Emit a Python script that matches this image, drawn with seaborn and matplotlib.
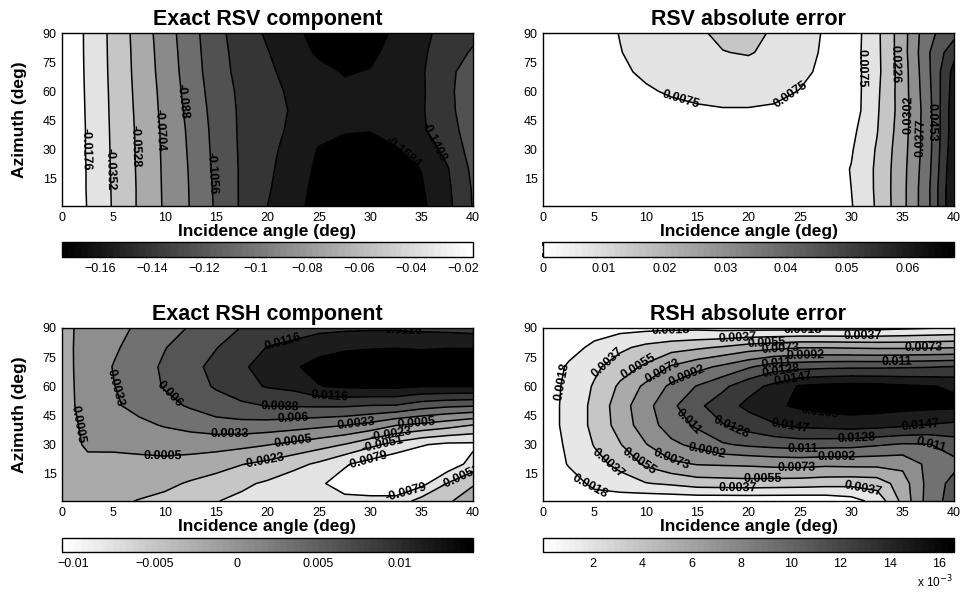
# Four contour panels: exact RSV / RSH reflection components and their absolute errors

import numpy as np
import matplotlib
matplotlib.use("Agg")
import matplotlib.pyplot as plt
from matplotlib.colors import Normalize
from matplotlib.cm import ScalarMappable
from matplotlib.ticker import FuncFormatter
import seaborn as sns

sns.set_theme(style="white")
plt.rcParams["font.family"] = ["Liberation Sans", "DejaVu Sans"]
plt.rcParams["text.color"] = "black"
plt.rcParams["axes.labelcolor"] = "black"
plt.rcParams["contour.negative_linestyle"] = "solid"

# ======================================================
# Data
# ======================================================

incidence = [0, 2.5, 5, 7.5, 10, 12.5, 15, 17.5, 20, 22.5, 25, 27.5, 30, 32.5, 35, 37.5, 40]
azimuth = [1, 10, 20, 30, 40, 50, 60, 70, 80, 90]

# rows go from azimuth 1 up to azimuth 90
rsv_exact = [
    [-0.002, -0.0183, -0.0367, -0.0549, -0.0724, -0.0888, -0.1078, -0.1256, -0.1408, -0.1541, -0.1635, -0.1710, -0.1745, -0.1700, -0.1620, -0.1455, -0.1222],
    [-0.002, -0.0187, -0.0370, -0.0549, -0.0727, -0.0891, -0.1085, -0.1256, -0.1387, -0.1527, -0.1625, -0.1690, -0.1715, -0.1675, -0.1600, -0.1442, -0.1215],
    [-0.002, -0.0187, -0.0374, -0.0553, -0.0730, -0.0896, -0.1094, -0.1255, -0.1371, -0.1508, -0.1612, -0.1655, -0.1668, -0.1635, -0.1580, -0.1421, -0.1192],
    [-0.002, -0.0191, -0.0377, -0.0557, -0.0734, -0.0905, -0.1104, -0.1258, -0.1359, -0.1477, -0.1595, -0.1620, -0.1622, -0.1600, -0.1509, -0.1359, -0.1160],
    [-0.002, -0.0191, -0.0381, -0.0560, -0.0738, -0.0914, -0.1112, -0.1261, -0.1350, -0.1440, -0.1530, -0.1575, -0.1580, -0.1505, -0.1434, -0.1300, -0.1150],
    [-0.002, -0.0195, -0.0385, -0.0568, -0.0749, -0.0930, -0.1124, -0.1262, -0.1345, -0.1425, -0.1480, -0.1515, -0.1515, -0.1480, -0.1425, -0.1284, -0.1120],
    [-0.002, -0.0199, -0.0389, -0.0576, -0.0758, -0.0949, -0.1139, -0.1269, -0.1354, -0.1440, -0.1510, -0.1550, -0.1545, -0.1500, -0.1430, -0.1278, -0.1110],
    [-0.002, -0.0203, -0.0394, -0.0584, -0.0771, -0.0966, -0.1157, -0.1287, -0.1381, -0.1461, -0.1535, -0.1595, -0.1575, -0.1510, -0.1425, -0.1285, -0.1130],
    [-0.002, -0.0206, -0.0397, -0.0589, -0.0781, -0.0976, -0.1168, -0.1299, -0.1400, -0.1507, -0.1610, -0.1680, -0.1620, -0.1523, -0.1433, -0.1325, -0.1210],
    [-0.002, -0.0207, -0.0400, -0.0597, -0.0792, -0.0987, -0.1178, -0.1318, -0.1433, -0.1538, -0.1650, -0.1740, -0.1680, -0.1546, -0.1442, -0.1360, -0.1280],
]

rsv_error = [
    [0.002, 0.002, 0.002, 0.002, 0.002, 0.002, 0.002, 0.002, 0.002, 0.002, 0.002, 0.003, 0.0070, 0.0160, 0.0280, 0.0438, 0.068],
    [0.002, 0.002, 0.002, 0.002, 0.002, 0.002, 0.002, 0.002, 0.002, 0.002, 0.002, 0.0035, 0.0075, 0.0163, 0.0280, 0.0438, 0.068],
    [0.002, 0.002, 0.002, 0.002, 0.002, 0.002, 0.002, 0.002, 0.002, 0.002, 0.0025, 0.0035, 0.0078, 0.0163, 0.0278, 0.0430, 0.067],
    [0.002, 0.002, 0.002, 0.002, 0.002, 0.002, 0.0025, 0.0025, 0.0025, 0.0025, 0.0025, 0.0035, 0.0068, 0.0158, 0.0273, 0.0423, 0.066],
    [0.002, 0.002, 0.0025, 0.003, 0.0035, 0.004, 0.0045, 0.0048, 0.0048, 0.0046, 0.0043, 0.0038, 0.0055, 0.0147, 0.0267, 0.0423, 0.065],
    [0.002, 0.003, 0.0035, 0.0042, 0.0050, 0.0058, 0.0065, 0.0070, 0.0070, 0.0066, 0.0058, 0.0046, 0.0035, 0.0142, 0.0261, 0.0423, 0.065],
    [0.002, 0.003, 0.0040, 0.0052, 0.0068, 0.0082, 0.0093, 0.0100, 0.0100, 0.0091, 0.0073, 0.0052, 0.0035, 0.0137, 0.0264, 0.0430, 0.064],
    [0.002, 0.003, 0.0045, 0.0065, 0.0085, 0.0102, 0.0117, 0.0125, 0.0125, 0.0110, 0.0090, 0.0060, 0.0038, 0.0131, 0.0264, 0.0438, 0.063],
    [0.002, 0.003, 0.0045, 0.0073, 0.0095, 0.0115, 0.0132, 0.0149, 0.0156, 0.0135, 0.0100, 0.0065, 0.0040, 0.0132, 0.0270, 0.0445, 0.058],
    [0.002, 0.003, 0.0050, 0.0077, 0.0098, 0.0120, 0.0141, 0.0165, 0.0170, 0.0143, 0.0105, 0.0068, 0.0035, 0.0134, 0.0270, 0.0434, 0.050],
]

rsh_exact = [
    [-0.0012, -0.0015, -0.0019, -0.0024, -0.0030, -0.0041, -0.0050, -0.0057, -0.0065, -0.0072, -0.0074, -0.0072, -0.0070, -0.0068, -0.0040, -0.0026, -0.0012],
    [-0.0010, -0.0010, -0.0010, -0.0014, -0.0017, -0.0026, -0.0035, -0.0046, -0.0055, -0.0068, -0.0075, -0.0090, -0.0100, -0.0105, -0.0088, -0.0050, -0.0025],
    [-0.0008, 0.0000, -0.0003, -0.0002, -0.0002, -0.0006, -0.0012, -0.0022, -0.0030, -0.0042, -0.0056, -0.0076, -0.0090, -0.0102, -0.0100, -0.0098, -0.0068],
    [-0.0005, 0.0008, 0.0010, 0.0012, 0.0015, 0.0016, 0.0015, 0.0012, 0.0006, -0.0002, -0.0012, -0.0024, -0.0044, -0.0061, -0.0077, -0.0085, -0.0085],
    [-0.0004, 0.0010, 0.0018, 0.0027, 0.0035, 0.0042, 0.0049, 0.0051, 0.0049, 0.0045, 0.0040, 0.0034, 0.0024, 0.0006, -0.0002, -0.0012, -0.0024],
    [-0.0004, 0.0014, 0.0029, 0.0041, 0.0052, 0.0063, 0.0075, 0.0082, 0.0089, 0.0090, 0.0091, 0.0091, 0.0087, 0.0086, 0.0072, 0.0065, 0.0062],
    [-0.0004, 0.0015, 0.0032, 0.0047, 0.0062, 0.0076, 0.0091, 0.0108, 0.0118, 0.0124, 0.0143, 0.0148, 0.0150, 0.0150, 0.0145, 0.0145, 0.0145],
    [-0.0004, 0.0016, 0.0034, 0.0049, 0.0064, 0.0080, 0.0096, 0.0112, 0.0127, 0.0141, 0.0152, 0.0160, 0.0165, 0.0168, 0.0166, 0.0163, 0.0160],
    [-0.0003, 0.0015, 0.0029, 0.0044, 0.0059, 0.0072, 0.0087, 0.0102, 0.0117, 0.0126, 0.0136, 0.0140, 0.0142, 0.0143, 0.0141, 0.0143, 0.0143],
    [-0.0002, 0.0013, 0.0025, 0.0037, 0.0050, 0.0062, 0.0076, 0.0089, 0.0095, 0.0100, 0.0108, 0.0111, 0.0112, 0.0112, 0.0110, 0.0108, 0.0105],
]

rsh_error = [
    [0.0003, 0.0006, 0.0012, 0.0007, 0.0004, 0.0004, 0.0004, 0.0004, 0.0004, 0.0004, 0.0004, 0.0005, 0.0010, 0.0025, 0.0060, 0.0100, 0.0118],
    [0.0005, 0.0012, 0.0021, 0.0029, 0.0036, 0.0040, 0.0046, 0.0047, 0.0048, 0.0047, 0.0046, 0.0044, 0.0043, 0.0045, 0.0064, 0.0098, 0.0116],
    [0.0007, 0.0019, 0.0031, 0.0042, 0.0058, 0.0069, 0.0074, 0.0075, 0.0076, 0.0078, 0.0079, 0.0077, 0.0078, 0.0078, 0.0078, 0.0097, 0.0105],
    [0.0008, 0.0021, 0.0038, 0.0054, 0.0072, 0.0088, 0.0097, 0.0108, 0.0113, 0.0116, 0.0118, 0.0117, 0.0116, 0.0112, 0.0108, 0.0109, 0.0118],
    [0.0009, 0.0023, 0.0042, 0.0062, 0.0083, 0.0101, 0.0113, 0.0127, 0.0136, 0.0145, 0.0151, 0.0153, 0.0155, 0.0153, 0.0150, 0.0146, 0.0143],
    [0.0009, 0.0023, 0.0042, 0.0064, 0.0086, 0.0106, 0.0124, 0.0138, 0.0152, 0.0162, 0.0168, 0.0172, 0.0174, 0.0173, 0.0171, 0.0170, 0.0169],
    [0.0009, 0.0022, 0.0039, 0.0058, 0.0077, 0.0096, 0.0111, 0.0124, 0.0140, 0.0152, 0.0167, 0.0170, 0.0172, 0.0171, 0.0168, 0.0166, 0.0163],
    [0.0008, 0.0020, 0.0033, 0.0047, 0.0058, 0.0075, 0.0086, 0.0096, 0.0108, 0.0120, 0.0122, 0.0124, 0.0125, 0.0125, 0.0126, 0.0127, 0.0129],
    [0.0006, 0.0013, 0.0021, 0.0033, 0.0042, 0.0048, 0.0052, 0.0057, 0.0064, 0.0068, 0.0072, 0.0072, 0.0071, 0.0070, 0.0070, 0.0071, 0.0072],
    [0.0004, 0.0007, 0.0012, 0.0012, 0.0013, 0.0014, 0.0014, 0.0012, 0.0012, 0.0012, 0.0012, 0.0012, 0.0012, 0.0013, 0.0015, 0.0017, 0.0019],
]

# contour levels as labelled in the picture
rsv_exact_levels = [-0.1584, -0.1408, -0.1232, -0.1056, -0.088, -0.0704, -0.0528, -0.0352, -0.0176]
rsv_error_levels = [0.0075, 0.0151, 0.0226, 0.0302, 0.0377, 0.0453, 0.0528, 0.0604]
rsh_exact_levels = [-0.0079, -0.0051, -0.0023, 0.0005, 0.0033, 0.006, 0.0088, 0.0116, 0.0144]
rsh_error_levels = [0.0018, 0.0037, 0.0055, 0.0073, 0.0092, 0.011, 0.0128, 0.0147, 0.0165]

# colorbar ranges and ticks
rsv_exact_range = (-0.1747, -0.0161)
rsv_error_range = (0.0, 0.0677)
rsh_exact_range = (-0.0107, 0.0145)
rsh_error_range = (0.0, 0.0166)

rsv_exact_ticks = [-0.16, -0.14, -0.12, -0.1, -0.08, -0.06, -0.04, -0.02]
rsv_error_ticks = [0, 0.01, 0.02, 0.03, 0.04, 0.05, 0.06]
rsh_exact_ticks = [-0.01, -0.005, 0, 0.005, 0.01]
rsh_error_ticks = [0.002, 0.004, 0.006, 0.008, 0.010, 0.012, 0.014, 0.016]

x_ticks = [0, 5, 10, 15, 20, 25, 30, 35, 40]
y_ticks = [15, 30, 45, 60, 75, 90]

# where the contour labels sit (incidence, azimuth)
rsv_exact_label_at = [(2.3, 30), (4.8, 20), (7.1, 32), (9.5, 40), (12, 55), (14.7, 18),
                      (33.5, 30), (37, 37)]
rsv_error_label_at = [(13.5, 57), (24, 59), (31, 72), (34.2, 74), (35.8, 48), (36.7, 36),
                      (37.9, 44)]
rsh_exact_label_at = [(1, 40), (5.5, 60), (10.5, 56), (21.5, 83), (33.2, 88), (26, 54),
                      (21.2, 49.6), (22.5, 43), (16.3, 36), (9.8, 25), (22.5, 31.6),
                      (19.6, 22), (28.6, 40.4), (34.5, 42), (32, 35), (31.2, 31),
                      (29.6, 24), (33.5, 5), (38.6, 15)]
rsh_error_label_at = [(2.1, 62), (12.4, 86.4), (25.3, 88), (4.5, 8), (6.5, 71),
                      (18.9, 84), (31.1, 85), (6.2, 20), (18.9, 7), (31.1, 8),
                      (9.4, 69.4), (21.8, 81.2), (9.1, 20), (21.4, 12),
                      (11.7, 67.4), (23.1, 79.4), (37, 79), (12.4, 21.5), (24.7, 18),
                      (14, 64.8), (25.5, 77.6), (15.9, 25), (28.6, 25.6),
                      (22.7, 72), (34.4, 73.5), (14, 41), (25.3, 27.5), (37.7, 29),
                      (23.1, 68.4), (18.2, 37), (30.5, 33.4),
                      (24.3, 64.8), (24, 39), (36.7, 39.5), (26.9, 43)]

# ======================================================
# Layout (pixel boxes of the 960x593 picture)
# ======================================================

W, H = 960, 593


def px_rect(left, top, right, bottom):
    return [left / W, 1 - bottom / H, (right - left) / W, (bottom - top) / H]


def minus_fmt(v, pos=None):
    return ("%g" % v).replace("-", "\u2212")


panels = [
    dict(title="Exact RSV component", z=rsv_exact, levels=rsv_exact_levels,
         cmap="gray", lim=rsv_exact_range, ticks=rsv_exact_ticks, labels=rsv_exact_label_at,
         ax_box=(62, 33, 473, 206), cb_box=(62, 242, 473, 257), ylabel=True),
    dict(title="RSV absolute error", z=rsv_error, levels=rsv_error_levels,
         cmap="gray_r", lim=rsv_error_range, ticks=rsv_error_ticks, labels=rsv_error_label_at,
         ax_box=(543, 33, 954, 206), cb_box=(543, 242, 954, 257), ylabel=False),
    dict(title="Exact RSH component", z=rsh_exact, levels=rsh_exact_levels,
         cmap="gray_r", lim=rsh_exact_range, ticks=rsh_exact_ticks, labels=rsh_exact_label_at,
         ax_box=(62, 328, 473, 501), cb_box=(62, 538, 473, 552), ylabel=True),
    dict(title="RSH absolute error", z=rsh_error, levels=rsh_error_levels,
         cmap="gray_r", lim=rsh_error_range, ticks=rsh_error_ticks, labels=rsh_error_label_at,
         ax_box=(543, 328, 954, 501), cb_box=(543, 538, 954, 552), ylabel=False),
]

fig = plt.figure(figsize=(9.6, 5.93), dpi=100)

X, Y = np.meshgrid(incidence, azimuth)

for p in panels:
    ax = fig.add_axes(px_rect(*p["ax_box"]))
    Z = np.array(p["z"])
    norm = Normalize(vmin=p["lim"][0], vmax=p["lim"][1])
    cm = plt.get_cmap(p["cmap"], 64)

    # MATLAB-like fill: each band takes the colour of its lower level
    fill_levels = [-1.0] + p["levels"] + [1.0]
    band_colors = [cm(norm(v)) for v in [p["lim"][0]] + p["levels"]]
    ax.contourf(X, Y, Z, levels=fill_levels, colors=band_colors)
    cs = ax.contour(X, Y, Z, levels=p["levels"], colors="black", linewidths=1.1)
    labels = ax.clabel(cs, fmt="%g", inline=False, fontsize=9, manual=p["labels"])
    for t in labels:
        t.set_fontweight("bold")
        t.set_color("black")

    ax.set_xlim(0, 40)
    ax.set_ylim(1, 90)
    ax.set_xticks(x_ticks)
    ax.set_yticks(y_ticks)
    ax.tick_params(length=0, labelsize=9, pad=4, colors="black")
    for s in ax.spines.values():
        s.set_color("black")
        s.set_linewidth(1.0)
    ax.set_title(p["title"], fontsize=15.5, fontweight="bold", pad=6)
    ax.set_xlabel("Incidence angle (deg)", fontsize=12.5, fontweight="bold", labelpad=0)
    if p["ylabel"]:
        ax.set_ylabel("Azimuth (deg)", fontsize=12.5, fontweight="bold", labelpad=11)

    # colorbar underneath
    cax = fig.add_axes(px_rect(*p["cb_box"]))
    sm = ScalarMappable(norm=norm, cmap=cm)
    cb = fig.colorbar(sm, cax=cax, orientation="horizontal")
    cb.outline.set_edgecolor("black")
    cb.outline.set_linewidth(1.0)
    cb.set_ticks(p["ticks"])
    if p["title"] == "RSH absolute error":
        cb.ax.xaxis.set_major_formatter(FuncFormatter(lambda v, pos: "%g" % round(v * 1000, 3)))
    else:
        cb.ax.xaxis.set_major_formatter(FuncFormatter(minus_fmt))
    cax.tick_params(axis="x", direction="in", length=3, top=True, bottom=True,
                    labelsize=9, pad=4, colors="black")

fig.text(953 / W, 1 - 590 / H, "x 10$^{-3}$", ha="right", va="bottom", fontsize=8.5)

plt.savefig("out.png", dpi=100)
